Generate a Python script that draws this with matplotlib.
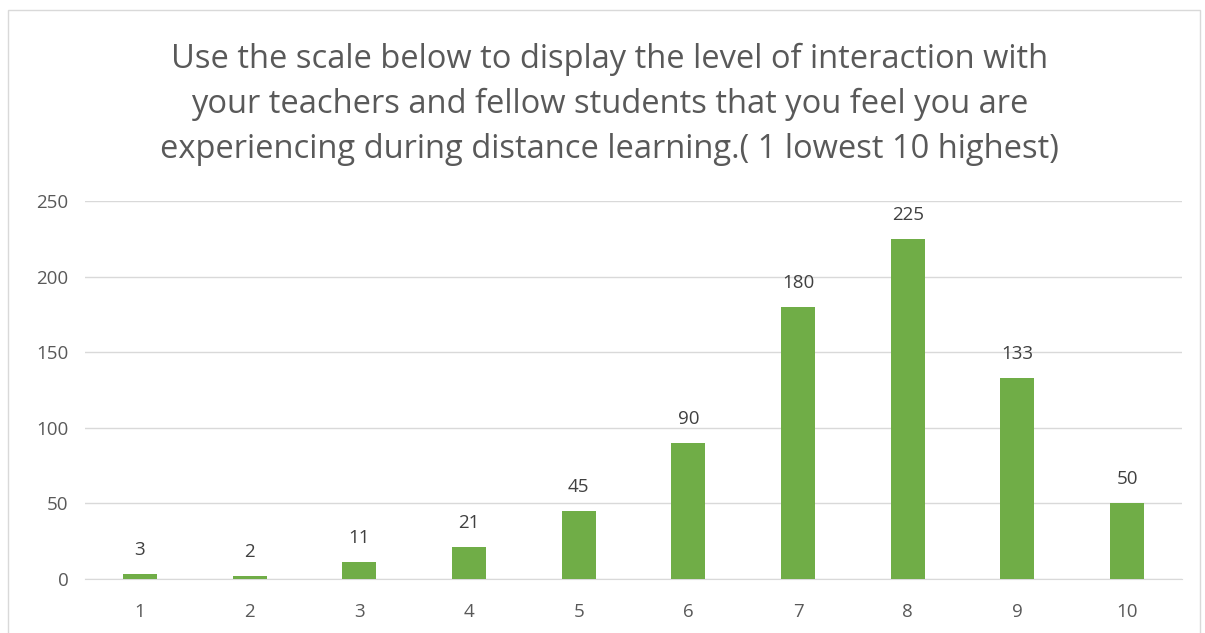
import matplotlib.pyplot as plt
from matplotlib.patches import Rectangle

categorias = ['1', '2', '3', '4', '5', '6', '7', '8', '9', '10']
valores = [3, 2, 11, 21, 45, 90, 180, 225, 133, 50]
ticks_y = [0, 50, 100, 150, 200, 250]
titulo = ('Use the scale below to display the level of interaction with\n'
          'your teachers and fellow students that you feel you are\n'
          'experiencing during distance learning.( 1 lowest 10 highest)')

plt.rcParams['font.family'] = ['Open Sans', 'DejaVu Sans']

fig = plt.figure(figsize=(12.05, 6.33), dpi=100)
fig.patches.append(Rectangle((8 / 1205, -0.01), 1192 / 1205, 1 - 10 / 633 + 0.01,
                             transform=fig.transFigure, fill=False,
                             edgecolor='#D9D9D9', linewidth=1))

ax = fig.add_axes([85 / 1205, 54 / 633, 1097 / 1205, 378 / 633])
x = list(range(1, len(categorias) + 1))
barras = ax.bar(x, valores, width=0.31, color='#70AD47', zorder=3)

# etiquetas de valor encima de cada barra
for xi, v in zip(x, valores):
    ax.annotate(str(v), xy=(xi, v), xytext=(0, 11), textcoords='offset points',
                ha='center', va='bottom', fontsize=13.5, color='#404040')

ax.set_xlim(0.5, 10.5)
ax.set_ylim(0, 250)
ax.set_xticks(x)
ax.set_xticklabels(categorias)
ax.set_yticks(ticks_y)
ax.tick_params(axis='both', length=0, labelsize=13.5, colors='#595959')
ax.tick_params(axis='x', pad=17)
ax.tick_params(axis='y', pad=12)
ax.grid(axis='y', color='#D9D9D9', linewidth=1, zorder=0)
for lado in ['top', 'right', 'left']:
    ax.spines[lado].set_visible(False)
ax.spines['bottom'].set_color('#D9D9D9')

fig.text(0.506, 0.933, titulo, ha='center', va='top', fontsize=23.5,
         color='#595959', linespacing=1.48)

fig.savefig('out.png', dpi=100)
